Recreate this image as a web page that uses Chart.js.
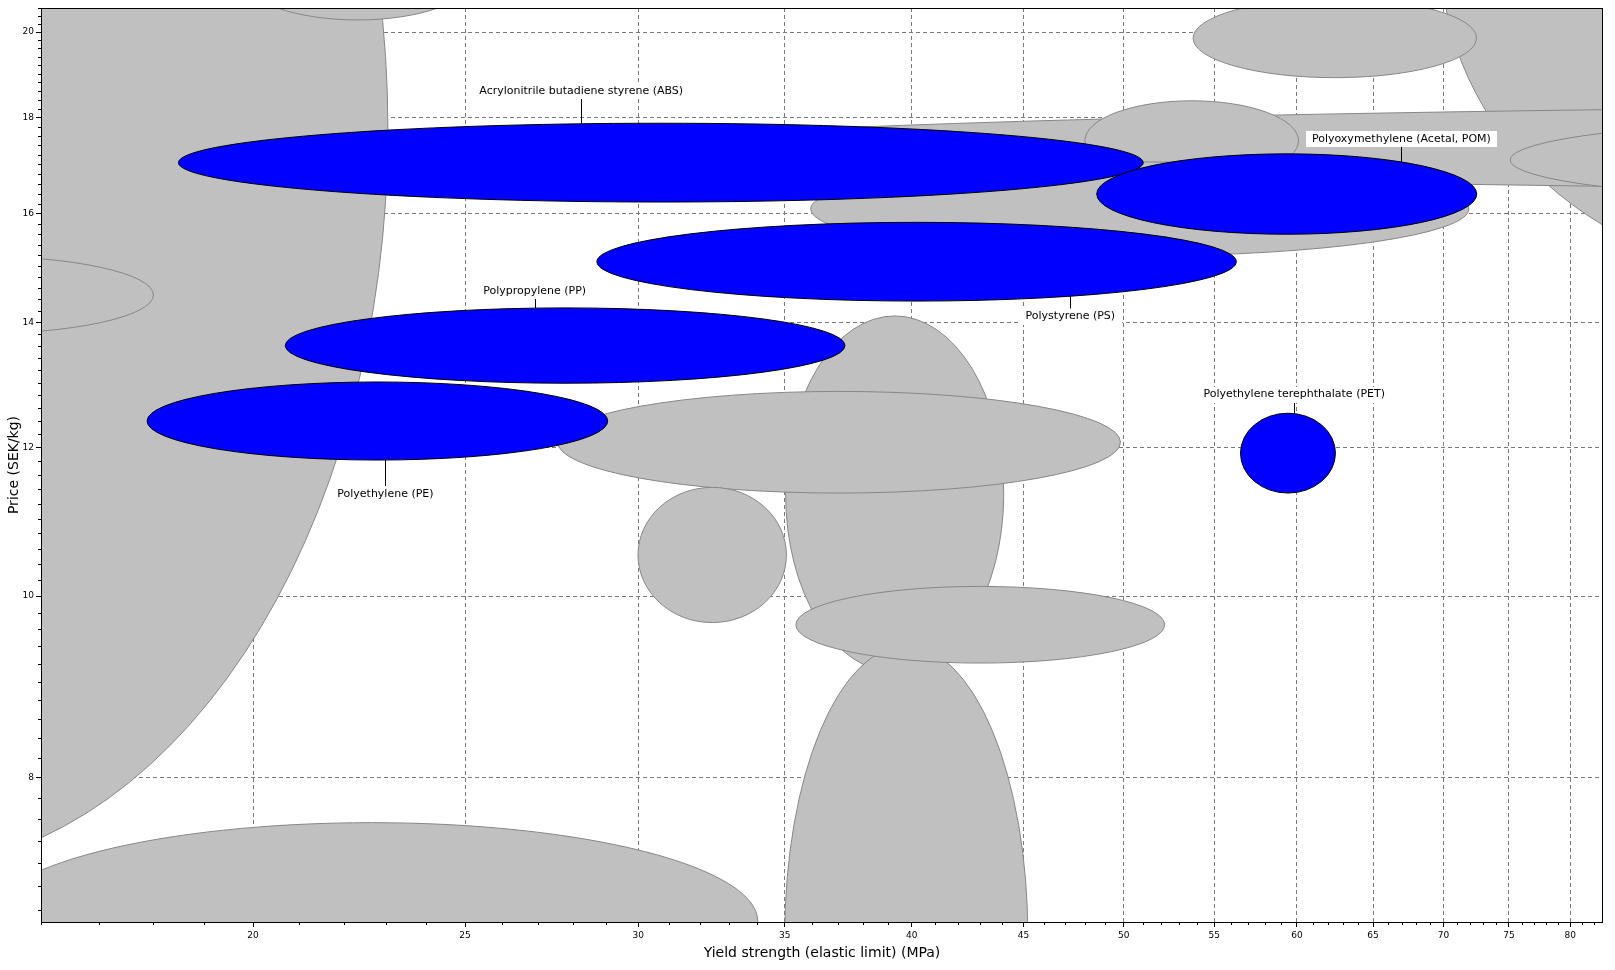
<!DOCTYPE html>
<html>
<head>
<meta charset="utf-8">
<title>Price vs yield strength</title>
<script src="https://cdn.jsdelivr.net/npm/chart.js@4.4.1/dist/chart.umd.min.js"></script>
<style>
  html, body { margin: 0; padding: 0; background: #fff; }
  canvas { display: block; }
</style>
</head>
<body>
<canvas id="bubbleChart" width="1615" height="970"></canvas>
<script>
// Background materials (grey), drawn in this order: yield strength MPa, price SEK/kg
const greyYieldLow  = [8.24, 19.84, 12.33, 15.09, 35.03, 35.0, 35.41, 27.56, 29.99, 69.8, 29.7, 75.1, 53.79, 48.0, 35.97];
const greyYieldHigh = [23.05, 25.13, 18.01, 34.02, 44.07, 45.2, 52.2, 49.83, 35.06, 149, 1736, 147.4, 72.48, 60.1, 71.9];
const greyPriceLow  = [7.145, 20.3, 13.8, 5.94, 9.11, 4.62, 9.21, 11.35, 9.68, 14.77, 16.43, 16.31, 18.91, 16.66, 15.19];
const greyPriceHigh = [44.1, 22.4, 15.19, 7.57, 14.11, 9.41, 10.12, 12.86, 11.43, 32.9, 18.31, 17.91, 20.84, 18.38, 17.05];

// Highlighted materials (blue)
const materials = [
  "Acrylonitrile butadiene styrene (ABS)",
  "Polystyrene (PS)",
  "Polyoxymethylene (Acetal, POM)",
  "Polypropylene (PP)",
  "Polyethylene (PE)",
  "Polyethylene terephthalate (PET)"
];
const yieldLow  = [18.49, 28.72, 48.6, 20.69, 17.89, 56.54];
const yieldHigh = [51.04, 56.29, 72.5, 37.29, 29.05, 62.48];
const priceLow  = [16.23, 14.37, 15.6, 12.99, 11.82, 11.35];
const priceHigh = [17.88, 15.83, 17.22, 14.25, 13.01, 12.52];

// Where each label sits (yield, price)
const labelYield = [28.25, 47.27, 66.97, 26.9, 22.99, 59.83];
const labelPrice = [18.61, 14.1, 17.54, 14.55, 11.33, 12.81];

// Axes
const xMajorTicks = [20, 25, 30, 35, 40, 45, 50, 55, 60, 65, 70, 75, 80];
const yMajorTicks = [8, 10, 12, 14, 16, 18, 20];
const xMinorStep = 1;
const yMinorStep = 0.2;

const datasets = [];
greyYieldLow.forEach((lo, i) => {
  datasets.push({
    label: "grey " + i,
    data: [{ x: lo, y: greyPriceLow[i] }, { x: greyYieldHigh[i], y: greyPriceHigh[i] }],
    backgroundColor: "#c0c0c0",
    borderColor: "#878787",
    highlighted: false
  });
});
materials.forEach((name, i) => {
  datasets.push({
    label: name,
    data: [{ x: yieldLow[i], y: priceLow[i] }, { x: yieldHigh[i], y: priceHigh[i] }],
    backgroundColor: "#0000ff",
    borderColor: "#000000",
    highlighted: true,
    labelAt: { x: labelYield[i], y: labelPrice[i] }
  });
});

function ellipseBox(chart, ds) {
  const xs = chart.scales.x, ys = chart.scales.y;
  const x0 = xs.getPixelForValue(ds.data[0].x), x1 = xs.getPixelForValue(ds.data[1].x);
  const y0 = ys.getPixelForValue(ds.data[0].y), y1 = ys.getPixelForValue(ds.data[1].y);
  return {
    cx: (x0 + x1) / 2, cy: (y0 + y1) / 2,
    rx: Math.abs(x1 - x0) / 2, ry: Math.abs(y1 - y0) / 2
  };
}

const ellipsePlugin = {
  id: "materialEllipses",
  afterDatasetsDraw(chart) {
    const { ctx, chartArea } = chart;
    ctx.save();
    ctx.beginPath();
    ctx.rect(chartArea.left, chartArea.top, chartArea.right - chartArea.left, chartArea.bottom - chartArea.top);
    ctx.clip();
    chart.data.datasets.forEach(ds => {
      const e = ellipseBox(chart, ds);
      ctx.beginPath();
      ctx.ellipse(e.cx, e.cy, e.rx, e.ry, 0, 0, Math.PI * 2);
      ctx.fillStyle = ds.backgroundColor;
      ctx.fill();
      ctx.lineWidth = 1;
      ctx.strokeStyle = ds.borderColor;
      ctx.stroke();
    });
    ctx.restore();

    // labels with leader lines
    ctx.save();
    ctx.font = "11px 'DejaVu Sans', Verdana, sans-serif";
    ctx.textAlign = "center";
    ctx.textBaseline = "middle";
    chart.data.datasets.forEach(ds => {
      if (!ds.highlighted) return;
      const e = ellipseBox(chart, ds);
      const lx = chart.scales.x.getPixelForValue(ds.labelAt.x);
      const ly = chart.scales.y.getPixelForValue(ds.labelAt.y);
      const w = ctx.measureText(ds.label).width + 12;
      const h = 16;
      const dx = (lx - e.cx) / e.rx;
      const half = e.ry * Math.sqrt(Math.max(0, 1 - dx * dx));
      const above = ly < e.cy;
      const edgeY = above ? e.cy - half : e.cy + half;
      const boxY = above ? ly + h / 2 : ly - h / 2;
      const px = Math.round(lx) + 0.5;
      ctx.beginPath();
      ctx.moveTo(px, boxY);
      ctx.lineTo(px, edgeY);
      ctx.strokeStyle = "#000";
      ctx.lineWidth = 1;
      ctx.stroke();
      ctx.fillStyle = "#fff";
      ctx.fillRect(Math.round(lx - w / 2), Math.round(ly - h / 2), Math.round(w), h);
      ctx.fillStyle = "#000";
      ctx.fillText(ds.label, lx, ly);
    });
    ctx.restore();
  },
  afterDraw(chart) {
    const { ctx, chartArea } = chart;
    const xs = chart.scales.x, ys = chart.scales.y;
    ctx.save();
    ctx.strokeStyle = "#000";
    ctx.lineWidth = 1;
    ctx.beginPath();
    // minor ticks
    for (let k = Math.ceil(xs.min / xMinorStep); k * xMinorStep <= xs.max; k++) {
      const v = k * xMinorStep;
      if (xMajorTicks.includes(v)) continue;
      const p = Math.round(xs.getPixelForValue(v)) + 0.5;
      ctx.moveTo(p, chartArea.bottom);
      ctx.lineTo(p, chartArea.bottom + 3);
    }
    for (let k = Math.ceil(ys.min / yMinorStep); k * yMinorStep <= ys.max + 1e-9; k++) {
      const v = Math.round(k * yMinorStep * 10) / 10;
      if (yMajorTicks.includes(v)) continue;
      const p = Math.round(ys.getPixelForValue(v)) + 0.5;
      ctx.moveTo(chartArea.left - 3, p);
      ctx.lineTo(chartArea.left, p);
    }
    ctx.stroke();
    // frame
    ctx.strokeRect(chartArea.left + 0.5, chartArea.top + 0.5,
      chartArea.right - chartArea.left - 1, chartArea.bottom - chartArea.top + 0);
    ctx.restore();
  }
};

Chart.defaults.font.family = "'DejaVu Sans', Verdana, sans-serif";
Chart.defaults.color = "#000";

new Chart(document.getElementById("bubbleChart"), {
  type: "scatter",
  data: { datasets },
  options: {
    responsive: false,
    devicePixelRatio: 1,
    animation: false,
    events: [],
    layout: { padding: { top: 8, right: 12, left: 0, bottom: 0 } },
    elements: { point: { radius: 0, hoverRadius: 0 } },
    plugins: { legend: { display: false }, tooltip: { enabled: false } },
    scales: {
      x: {
        type: "logarithmic",
        min: 16,
        max: 82.8,
        bounds: "data",
        afterBuildTicks: scale => { scale.ticks = xMajorTicks.map(v => ({ value: v })); },
        afterFit: scale => { scale.height = 48; },
        ticks: {
          autoSkip: false,
          maxRotation: 0,
          padding: 3,
          font: { size: 9 },
          callback: value => String(value)
        },
        grid: { color: "#7a7a7a", lineWidth: 1, tickLength: 5, tickColor: "#000" },
        border: { display: false, dash: [4, 3] },
        title: {
          display: true,
          text: "Yield strength (elastic limit) (MPa)",
          font: { size: 14 },
          padding: { top: 0, bottom: 8 }
        }
      },
      y: {
        type: "logarithmic",
        min: 6.7,
        max: 20.6,
        bounds: "data",
        afterBuildTicks: scale => { scale.ticks = yMajorTicks.map(v => ({ value: v })); },
        afterFit: scale => { scale.width = 41; },
        ticks: {
          autoSkip: false,
          padding: 2,
          font: { size: 9 },
          callback: value => String(value)
        },
        grid: { color: "#7a7a7a", lineWidth: 1, tickLength: 5, tickColor: "#000" },
        border: { display: false, dash: [4, 3] },
        title: {
          display: true,
          text: "Price (SEK/kg)",
          font: { size: 14 },
          padding: { top: 6, bottom: 0 }
        }
      }
    }
  },
  plugins: [ellipsePlugin]
});
</script>
</body>
</html>
